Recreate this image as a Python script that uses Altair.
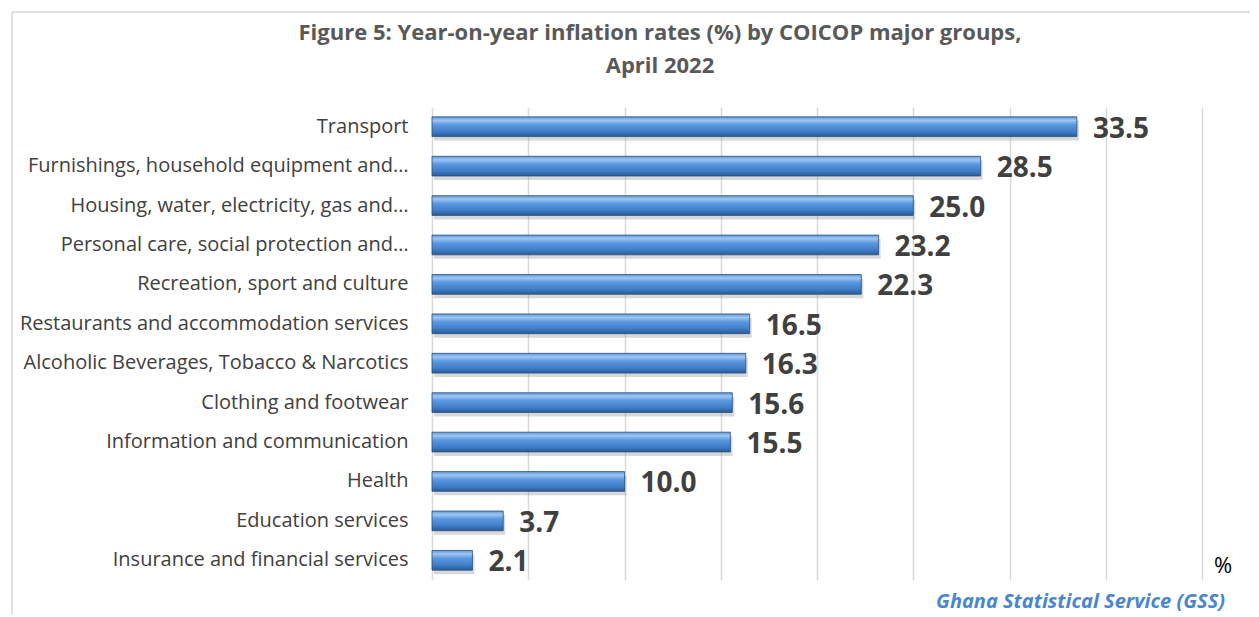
import altair as alt
import pandas as pd

categories = [
    "Transport",
    "Furnishings, household equipment and…",
    "Housing, water, electricity, gas and…",
    "Personal care, social protection and…",
    "Recreation, sport and culture",
    "Restaurants and accommodation services",
    "Alcoholic Beverages, Tobacco & Narcotics",
    "Clothing and footwear",
    "Information and communication",
    "Health",
    "Education services",
    "Insurance and financial services",
]
values = [33.5, 28.5, 25.0, 23.2, 22.3, 16.5, 16.3, 15.6, 15.5, 10.0, 3.7, 2.1]
grid_ticks = [0, 5, 10, 15, 20, 25, 30, 35, 40]

title_lines = ["Figure 5: Year-on-year inflation rates (%) by  COICOP major groups,", "April  2022"]
source_text = "Ghana Statistical Service (GSS)"
unit_text = "%"

df = pd.DataFrame({"group": categories, "rate": values})

FONT = "Open Sans"

y_enc = alt.Y(
    "group:N",
    sort=categories,
    title=None,
    scale=alt.Scale(paddingInner=0.5, paddingOuter=0.25),
    axis=alt.Axis(
        domain=False, ticks=False, labelPadding=24, labelFontSize=20,
        labelFont=FONT, labelColor="#404040", labelLimit=600,
    ),
)
x_enc = alt.X(
    "rate:Q",
    title=None,
    scale=alt.Scale(domain=[0, 40], nice=False),
    axis=alt.Axis(
        values=grid_ticks, labels=False, ticks=False, domain=False,
        grid=True, gridColor="#d9d9d9", gridWidth=1.5,
    ),
)

base = alt.Chart(df)

shadow = base.mark_bar(color="#7f7f7f", opacity=0.3, xOffset=2, yOffset=4).encode(x=x_enc, y=y_enc)

bars = base.mark_bar(
    color=alt.Gradient(
        gradient="linear",
        x1=0, x2=0, y1=0, y2=1,
        stops=[
            alt.GradientStop(color="#5f98de", offset=0),
            alt.GradientStop(color="#9ec6f3", offset=0.18),
            alt.GradientStop(color="#5b98e0", offset=0.4),
            alt.GradientStop(color="#3f7dc8", offset=0.75),
            alt.GradientStop(color="#2a5a96", offset=1),
        ],
    ),
    stroke="#2b4f7a",
    strokeWidth=0.8,
).encode(x=x_enc, y=y_enc)

labels = base.mark_text(
    align="left", baseline="middle", dx=16, dy=3,
    font=FONT, fontSize=28, fontWeight="bold", color="#404040",
).encode(x=x_enc, y=y_enc, text=alt.Text("rate:Q", format=".1f"))

one = pd.DataFrame({"a": [0]})

frame_left = alt.Chart(one).mark_rule(color="#d9d9d9", strokeWidth=1.5).encode(
    x=alt.value(-420), y=alt.value(-95), y2=alt.value(520)
)
frame_top = alt.Chart(one).mark_rule(color="#d9d9d9", strokeWidth=1.5).encode(
    x=alt.value(-420), x2=alt.value(830), y=alt.value(-95)
)

title = alt.Chart(pd.DataFrame({"t": title_lines, "yy": [-74, -41]})).mark_text(
    align="center", baseline="middle", font=FONT, fontSize=22, fontWeight="bold", color="#595959"
).encode(x=alt.value(228), y=alt.Y("yy:Q", scale=None), text="t:N")

unit = alt.Chart(pd.DataFrame({"t": [unit_text]})).mark_text(
    align="left", baseline="middle", font=FONT, fontSize=22, color="#000000"
).encode(x=alt.value(782), y=alt.value(459), text="t:N")

source = alt.Chart(pd.DataFrame({"t": [source_text]})).mark_text(
    align="right", baseline="middle", font=FONT, fontSize=20, fontWeight="bold",
    fontStyle="italic", color="#4a86d0"
).encode(x=alt.value(793), y=alt.value(495), text="t:N")

chart = alt.layer(frame_left, frame_top, shadow, bars, labels, title, unit, source).properties(
    width=770,
    height=473,
    autosize=alt.AutoSizeParams(type="none"),
    padding={"left": 424, "top": 99, "right": 48, "bottom": 34},
).configure_view(stroke=None)

chart.save("out.html", embed_options={"renderer": "svg", "actions": False})
